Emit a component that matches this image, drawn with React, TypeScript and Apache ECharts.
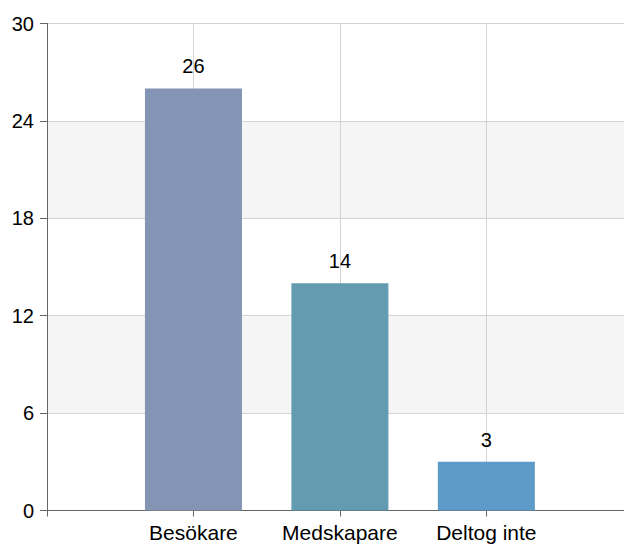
import React, { useEffect, useRef } from "react";
import * as echarts from "echarts";

const categories = ["Besökare", "Medskapare", "Deltog inte"];
const values = [26, 14, 3];
const barColors = ["#8494b4", "#639bb0", "#5e9ac8"];
const yTicks = { min: 0, max: 30, interval: 6 };

export default function App() {
  const ref = useRef<HTMLDivElement>(null);
  useEffect(() => {
    if (!ref.current) return;
    const chart = echarts.init(ref.current, null, { renderer: "svg" });
    const seriesData: any[] = values.map((v, i) => ({
      value: [i + 1, v],
      itemStyle: { color: barColors[i] },
    }));
    const font = "'Liberation Sans', Arial, sans-serif";
    chart.setOption({
      animation: false,
      grid: { left: 47, top: 23.5, right: 0, height: 487, containLabel: false },
      xAxis: {
        type: "value",
        min: 0,
        max: 3.94,
        interval: 1,
        axisLine: { show: true, lineStyle: { color: "#666", width: 1 } },
        axisTick: { show: true, length: 6, lineStyle: { color: "#666" } },
        axisLabel: {
          color: "#000",
          fontSize: 21,
          fontFamily: font,
          margin: 11,
          showMaxLabel: false,
          formatter: (v: number) => (Number.isInteger(v) && v >= 1 && v <= categories.length ? categories[v - 1] : ""),
        },
        splitLine: { show: true, lineStyle: { color: "#d3d3d3", width: 1 } },
      },
      yAxis: {
        type: "value",
        min: yTicks.min,
        max: yTicks.max,
        interval: yTicks.interval,
        axisLine: { show: true, lineStyle: { color: "#666", width: 1 } },
        axisTick: { show: true, length: 7, lineStyle: { color: "#666" } },
        axisLabel: { color: "#000", fontSize: 20, fontFamily: font, margin: 13 },
        splitLine: { show: true, lineStyle: { color: "#d3d3d3", width: 1 } },
        splitArea: { show: true, areaStyle: { color: ["#ffffff", "#f5f5f5"] } },
      },
      series: [
        {
          type: "bar",
          data: seriesData,
          barWidth: 97,
          label: {
            show: true,
            position: "top",
            distance: 12,
            color: "#000",
            fontSize: 20,
            fontFamily: font,
            formatter: (p: any) => String(p.value[1]),
          },
        },
      ],
    });
    return () => chart.dispose();
  }, []);
  return (
    <div
      ref={ref}
      style={{ position: "fixed", left: 0, top: 0, width: 624, height: 544, background: "#fff" }}
    />
  );
}
